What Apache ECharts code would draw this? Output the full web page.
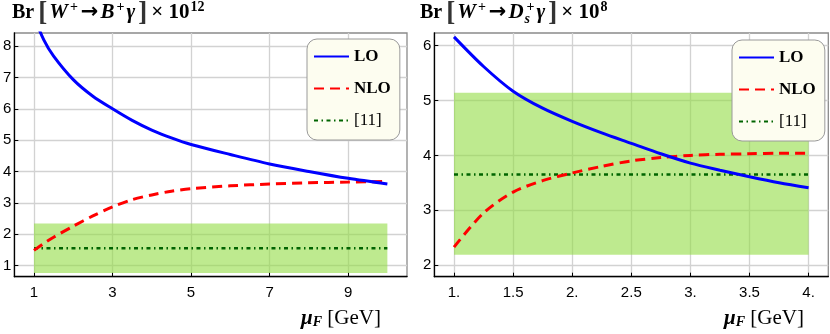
<!DOCTYPE html>
<html>
<head>
<meta charset="utf-8">
<script src="https://cdn.jsdelivr.net/npm/echarts@6/dist/echarts.min.js"></script>
<style>
  html, body { margin: 0; padding: 0; background: #fff; }
  #chart { width: 830px; height: 334px; }
</style>
</head>
<body>
<div id="chart"></div>
<script>
// left panel: W+ -> B+ gamma (x 10^12)
const muB = [1, 1.25, 1.5, 2, 2.5, 3, 3.5, 4, 4.5, 5, 6, 7, 8, 9, 10];
const loB = [8.95, 8.2, 7.68, 6.93, 6.4, 6.0, 5.63, 5.32, 5.07, 4.86, 4.54, 4.24, 4.0, 3.78, 3.6];
const nloB = [1.48, 1.7, 1.9, 2.25, 2.58, 2.87, 3.1, 3.25, 3.37, 3.45, 3.54, 3.6, 3.64, 3.66, 3.68];
const refB = 1.55;          // [11] central value
const bandB = [0.76, 2.34]; // [11] error band
const rangeB = [1, 10];

// right panel: W+ -> Ds+ gamma (x 10^8)
const muDs = [1, 1.25, 1.5, 1.75, 2, 2.25, 2.5, 2.75, 3, 3.25, 3.5, 3.75, 4];
const loDs = [6.16, 5.62, 5.17, 4.86, 4.62, 4.41, 4.22, 4.03, 3.86, 3.73, 3.61, 3.5, 3.41];
const nloDs = [2.33, 2.95, 3.33, 3.54, 3.68, 3.8, 3.9, 3.96, 4.0, 4.02, 4.03, 4.04, 4.04];
const refDs = 3.65;
const bandDs = [2.19, 5.14];
const rangeDs = [1, 4];

// ticks
const xTicksB = [1, 3, 5, 7, 9];
const yTicksB = [1, 2, 3, 4, 5, 6, 7, 8];
const xTicksDs = [1, 1.5, 2, 2.5, 3, 3.5, 4];
const yTicksDs = [2, 3, 4, 5, 6];

const serif = "'Liberation Serif', 'DejaVu Serif', serif";
const sans = "'Liberation Sans', Arial, sans-serif";

let myChart = echarts.init(document.getElementById('chart'));

function zip(xs, ys) {
  return xs.map((x, i) => [x, ys[i]]);
}

// shared axis styles
function xAxisOf(grid, min, max, ticks, fmt) {
  return {
    gridIndex: grid,
    type: 'value',
    min: min,
    max: max,
    axisLine: { show: true, onZero: false, lineStyle: { color: '#000', width: 1.3 } },
    axisTick: { show: true, inside: true, length: 4, customValues: ticks, lineStyle: { color: '#000', width: 1 } },
    axisLabel: { customValues: ticks, color: '#000', fontSize: 15, fontFamily: sans, margin: 9, formatter: fmt },
    splitLine: { show: true, lineStyle: { color: '#d2d2d2', width: 1.3 } }
  };
}
function yAxisOf(grid, min, max, ticks) {
  return {
    gridIndex: grid,
    type: 'value',
    min: min,
    max: max,
    axisLine: { show: true, onZero: false, lineStyle: { color: '#000', width: 1.3 } },
    axisTick: { show: true, inside: true, length: 4, customValues: ticks, lineStyle: { color: '#000', width: 1 } },
    axisLabel: { customValues: ticks, color: '#000', fontSize: 15, fontFamily: sans, margin: 3 },
    splitLine: { show: true, lineStyle: { color: '#d2d2d2', width: 1.3 } }
  };
}

const titleRich = {
  r: { fontFamily: serif, fontSize: 20, fontWeight: 'bold', lineHeight: 26, color: '#000' },
  bl: { fontFamily: serif, fontSize: 27, lineHeight: 26, color: '#333', padding: [0, 2, 0, 4] },
  bb: { fontFamily: serif, fontSize: 27, lineHeight: 26, color: '#333', padding: [0, 4, 0, 2] },
  bi: { fontFamily: serif, fontSize: 21, fontWeight: 'bold', fontStyle: 'italic', lineHeight: 26, color: '#000', padding: [0, 1, 0, 0] },
  n: { fontFamily: serif, fontSize: 21, lineHeight: 26, color: '#000' },
  ar: { fontFamily: "'DejaVu Sans', sans-serif", fontSize: 21, lineHeight: 26, color: '#000', padding: [0, 2, 0, 1] },
  sup: { fontFamily: serif, fontSize: 14, fontWeight: 'bold', lineHeight: 13, verticalAlign: 'top', color: '#000', padding: [0, 2, 0, 1] },
  sub: { fontFamily: serif, fontSize: 14, fontWeight: 'bold', fontStyle: 'italic', lineHeight: 13, verticalAlign: 'bottom', width: 1, color: '#000' }
};

const nameRich = {
  mu: { fontFamily: serif, fontSize: 21, fontWeight: 'bold', fontStyle: 'italic', fill: '#000' },
  f: { fontFamily: serif, fontSize: 14, fontWeight: 'bold', fontStyle: 'italic', verticalAlign: 'bottom', lineHeight: 12, fill: '#000' },
  n: { fontFamily: serif, fontSize: 21, fill: '#000' }
};

function legendOf(left, top) {
  return {
    left: left,
    top: top,
    orient: 'vertical',
    data: ['LO', 'NLO', '[11]'],
    selectedMode: false,
    itemWidth: 35,
    itemHeight: 14,
    itemGap: 15,
    padding: [9, 9, 11, 6],
    backgroundColor: '#fdfdf0',
    borderColor: '#9a9a9a',
    borderWidth: 1,
    borderRadius: 10,
    itemStyle: { opacity: 0 },
    formatter: function (name) {
      return name === '[11]' ? '{n|[11]}' : '{b|' + name + '}';
    },
    textStyle: {
      color: '#000',
      rich: {
        b: { fontFamily: serif, fontSize: 17, fontWeight: 'bold' },
        n: { fontFamily: serif, fontSize: 17 }
      }
    }
  };
}

const loStyle = { color: '#0000ff', width: 3 };
const nloStyle = { color: '#ff0000', width: 3, type: [10, 6] };
const refStyle = { color: '#006400', width: 2.5, type: [4, 3.5, 1.5, 3.5] };
const bandColor = 'rgba(147, 220, 68, 0.6)';

let option = {
  animation: false,
  backgroundColor: '#fff',
  title: [
    {
      left: 12, top: 0, padding: 0,
      text: '{r|Br}{bl|[}{bi|W}{sup|+}{ar|→}{bi|B}{sup|+}{bi|γ}{bb|]}{n|× 10}{sup|12}',
      textStyle: { rich: titleRich }
    },
    {
      left: 420, top: 0, padding: 0,
      text: '{r|Br}{bl|[}{bi|W}{sup|+}{ar|→}{bi|D}{sub|s}{sup|+}{bi|γ}{bb|]}{n|× 10}{sup|8}',
      textStyle: { rich: titleRich }
    }
  ],
  grid: [
    { left: 12.5, top: 33, width: 394.5, height: 243.7, show: true, borderColor: '#8a8a8a', borderWidth: 1.3 },
    { left: 434.3, top: 33, width: 394, height: 243.7, show: true, borderColor: '#8a8a8a', borderWidth: 1.3 }
  ],
  xAxis: [
    xAxisOf(0, 0.5, 10.5, xTicksB, v => String(v)),
    xAxisOf(1, 0.8333, 4.1667, xTicksDs, v => Number.isInteger(v) ? v + '.' : String(v))
  ],
  yAxis: [
    yAxisOf(0, 0.64, 8.42, yTicksB),
    yAxisOf(1, 1.79, 6.23, yTicksDs)
  ],
  legend: [legendOf(307, 39), legendOf(732, 40)],
  graphic: [
    { type: 'text', left: 301, top: 308, style: { text: '{mu|μ}{f|F}{n| [GeV]}', rich: nameRich } },
    { type: 'text', left: 724, top: 308, style: { text: '{mu|μ}{f|F}{n| [GeV]}', rich: nameRich } }
  ],
  series: [
    {
      name: '[11]', type: 'line', xAxisIndex: 0, yAxisIndex: 0, z: 3,
      symbol: 'none', lineStyle: refStyle, itemStyle: { color: refStyle.color },
      data: [[rangeB[0], refB], [rangeB[1], refB]],
      markArea: {
        silent: true,
        itemStyle: { color: bandColor },
        data: [[{ xAxis: rangeB[0], yAxis: bandB[0] }, { xAxis: rangeB[1], yAxis: bandB[1] }]]
      }
    },
    {
      name: 'NLO', type: 'line', xAxisIndex: 0, yAxisIndex: 0, z: 4, smooth: 0.3,
      symbol: 'none', lineStyle: nloStyle, itemStyle: { color: nloStyle.color },
      data: zip(muB, nloB)
    },
    {
      name: 'LO', type: 'line', xAxisIndex: 0, yAxisIndex: 0, z: 5, smooth: 0.3,
      symbol: 'none', lineStyle: loStyle, itemStyle: { color: loStyle.color },
      data: zip(muB, loB)
    },
    {
      name: '[11]', type: 'line', xAxisIndex: 1, yAxisIndex: 1, z: 3,
      symbol: 'none', lineStyle: refStyle, itemStyle: { color: refStyle.color },
      data: [[rangeDs[0], refDs], [rangeDs[1], refDs]],
      markArea: {
        silent: true,
        itemStyle: { color: bandColor },
        data: [[{ xAxis: rangeDs[0], yAxis: bandDs[0] }, { xAxis: rangeDs[1], yAxis: bandDs[1] }]]
      }
    },
    {
      name: 'NLO', type: 'line', xAxisIndex: 1, yAxisIndex: 1, z: 4, smooth: 0.3,
      symbol: 'none', lineStyle: nloStyle, itemStyle: { color: nloStyle.color },
      data: zip(muDs, nloDs)
    },
    {
      name: 'LO', type: 'line', xAxisIndex: 1, yAxisIndex: 1, z: 5, smooth: 0.3,
      symbol: 'none', lineStyle: loStyle, itemStyle: { color: loStyle.color },
      data: zip(muDs, loDs)
    }
  ]
};

option && myChart.setOption(option);
</script>
</body>
</html>
